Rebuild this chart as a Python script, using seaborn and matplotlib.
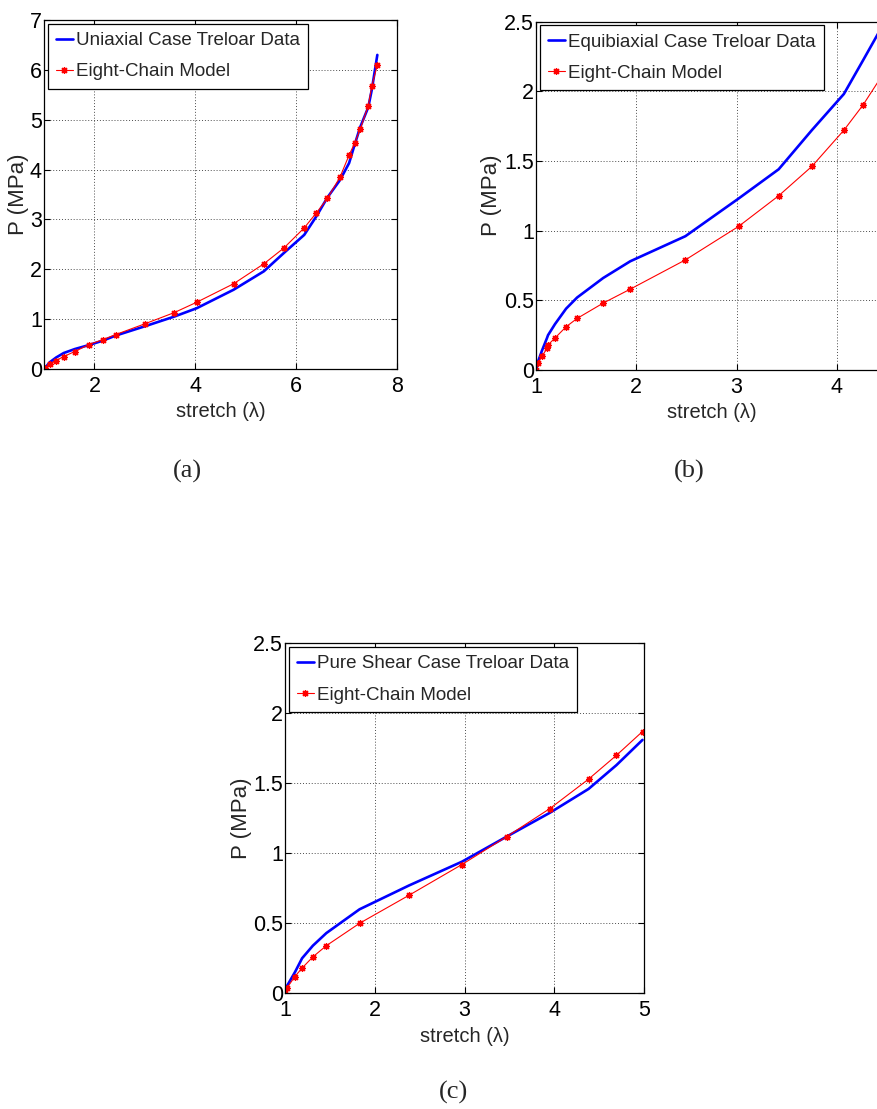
import matplotlib
matplotlib.use("Agg")
import matplotlib.pyplot as plt
import seaborn as sns

# ---------------- data ----------------
# (a) uniaxial
uni_lam_data = [1.0, 1.12, 1.24, 1.39, 1.61, 1.89, 2.17, 2.42, 3.01, 3.58, 4.03, 4.76,
                5.36, 5.76, 6.16, 6.40, 6.62, 6.87, 7.05, 7.16, 7.27, 7.43, 7.50, 7.61]
uni_P_data = [0.0, 0.14, 0.23, 0.32, 0.40, 0.48, 0.57, 0.67, 0.86, 1.05, 1.22, 1.59,
              1.96, 2.33, 2.69, 3.06, 3.44, 3.79, 4.13, 4.50, 4.85, 5.25, 5.60, 6.30]
uni_lam_model = [1.0, 1.02, 1.12, 1.24, 1.39, 1.61, 1.89, 2.17, 2.42, 3.01, 3.58, 4.03, 4.76,
                 5.36, 5.76, 6.16, 6.40, 6.62, 6.87, 7.05, 7.16, 7.27, 7.43, 7.50, 7.61]
uni_P_model = [0.0, 0.02, 0.10, 0.17, 0.25, 0.35, 0.49, 0.59, 0.69, 0.91, 1.13, 1.34, 1.71,
               2.11, 2.43, 2.83, 3.13, 3.42, 3.85, 4.29, 4.53, 4.81, 5.28, 5.67, 6.10]

# (b) equibiaxial
eq_lam = [1.0, 1.02, 1.06, 1.11, 1.12, 1.19, 1.30, 1.41, 1.67, 1.94, 2.49, 3.02,
          3.42, 3.75, 4.07, 4.26, 4.44]
eq_P_data = [0.0, 0.06, 0.14, 0.23, 0.25, 0.33, 0.44, 0.52, 0.66, 0.78, 0.96, 1.23,
             1.44, 1.72, 1.98, 2.22, 2.45]
eq_P_model = [0.0, 0.05, 0.10, 0.155, 0.18, 0.23, 0.31, 0.37, 0.48, 0.58, 0.79, 1.03,
              1.25, 1.46, 1.72, 1.90, 2.10]

# (c) pure shear
ps_lam = [1.0, 1.02, 1.11, 1.19, 1.31, 1.46, 1.83, 2.38, 2.97, 3.47, 3.95, 4.38, 4.69, 4.98]
ps_P_data = [0.0, 0.05, 0.15, 0.25, 0.34, 0.43, 0.60, 0.77, 0.94, 1.12, 1.29, 1.46, 1.63, 1.81]
ps_P_model = [0.0, 0.036, 0.12, 0.18, 0.26, 0.34, 0.50, 0.70, 0.92, 1.12, 1.32, 1.53, 1.70, 1.87]

panels = [
    dict(lam_d=uni_lam_data, P_d=uni_P_data, lam_m=uni_lam_model, P_m=uni_P_model,
         label="Uniaxial Case Treloar Data", xlim=(1, 8), xticks=[2, 4, 6, 8],
         ylim=(0, 7), yticks=[0, 1, 2, 3, 4, 5, 6, 7],
         ytl=["0", "1", "2", "3", "4", "5", "6", "7"],
         px=(44, 397, 20, 369), ylab_x=19, cap="(a)", cap_xy=(187, 471)),
    dict(lam_d=eq_lam, P_d=eq_P_data, lam_m=eq_lam, P_m=eq_P_model,
         label="Equibiaxial Case Treloar Data", xlim=(1, 4.5), xticks=[1, 2, 3, 4],
         ylim=(0, 2.5), yticks=[0, 0.5, 1, 1.5, 2, 2.5],
         ytl=["0", "0.5", "1", "1.5", "2", "2.5"],
         px=(536, 887, 21.5, 370), ylab_x=492, cap="(b)", cap_xy=(689, 471)),
    dict(lam_d=ps_lam, P_d=ps_P_data, lam_m=ps_lam, P_m=ps_P_model,
         label="Pure Shear Case Treloar Data", xlim=(1, 5), xticks=[1, 2, 3, 4, 5],
         ylim=(0, 2.5), yticks=[0, 0.5, 1, 1.5, 2, 2.5],
         ytl=["0", "0.5", "1", "1.5", "2", "2.5"],
         px=(285, 644.3, 643.3, 993.3), ylab_x=241, cap="(c)", cap_xy=(454, 1092)),
]

# ---------------- style ----------------
sns.set_theme(style="white")
plt.rcParams["font.family"] = ["Liberation Sans", "DejaVu Sans"]
plt.rcParams["axes.unicode_minus"] = False

W, H = 877, 1109
fig = plt.figure(figsize=(W / 100, H / 100), dpi=100)

for p in panels:
    l, r, t, b = p["px"]
    ax = fig.add_axes([l / W, 1 - b / H, (r - l) / W, (b - t) / H])
    sns.lineplot(x=p["lam_d"], y=p["P_d"], ax=ax, color="#0000ff", linewidth=1.9,
                 sort=False, estimator=None, label=p["label"])
    sns.lineplot(x=p["lam_m"], y=p["P_m"], ax=ax, color="#ff0000", linewidth=0.8,
                 marker=(8, 2, 0), markersize=5, markeredgewidth=0.9,
                 markeredgecolor="#ff0000", sort=False, estimator=None,
                 label="Eight-Chain Model")
    ax.set_xlim(*p["xlim"])
    ax.set_ylim(*p["ylim"])
    ax.set_xticks(p["xticks"])
    ax.set_xticklabels([str(v) for v in p["xticks"]])
    ax.set_yticks(p["yticks"])
    ax.set_yticklabels(p["ytl"])
    ax.grid(True, color="0.3", linestyle=(0, (1, 2)), linewidth=0.7)
    for s in ax.spines.values():
        s.set_visible(True)
        s.set_color("black")
        s.set_linewidth(0.9)
    ax.tick_params(direction="in", length=4, width=0.8, colors="black",
                   labelsize=15.5, top=True, right=True, bottom=True, left=True)
    ax.tick_params(axis="x", pad=5)
    ax.tick_params(axis="y", pad=1.5)
    ax.set_xlabel("stretch (λ)", fontsize=14.5, va="center")
    ax.xaxis.set_label_coords(0.5, -0.122)
    ax.set_ylabel("P (MPa)", fontsize=16, va="center")
    ax.yaxis.set_label_coords((p["ylab_x"] - l) / (r - l), 0.5)
    leg = ax.legend(loc="upper left", fontsize=13.5, handlelength=0.9,
                    handletextpad=0.15, labelspacing=0.75, borderpad=0.44,
                    borderaxespad=0.2, frameon=True, fancybox=False,
                    framealpha=1, edgecolor="black")
    leg.get_frame().set_linewidth(0.9)
    fig.text(p["cap_xy"][0] / W, 1 - p["cap_xy"][1] / H, p["cap"],
             ha="center", va="center", fontsize=19,
             family=["Liberation Serif", "DejaVu Serif"])

fig.savefig("out.png", dpi=100)
